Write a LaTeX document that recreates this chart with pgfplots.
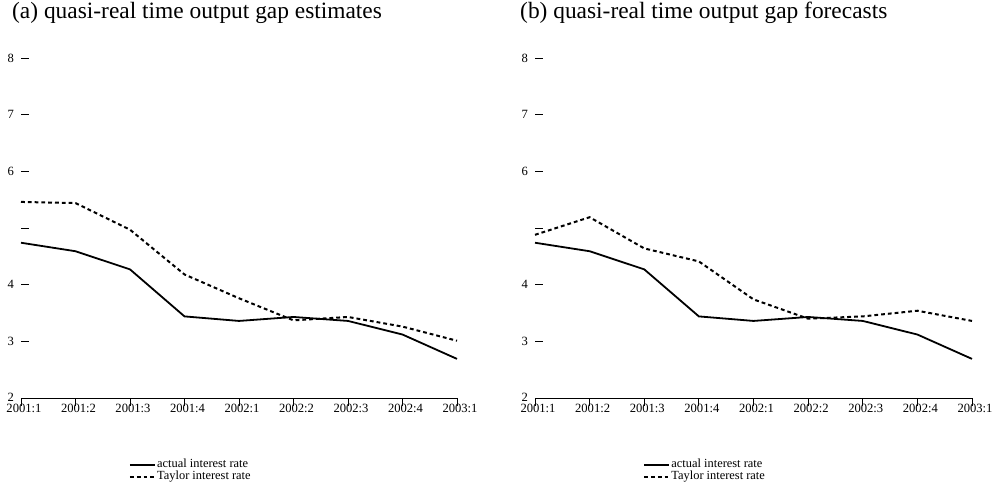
\documentclass[border=0pt]{standalone}
\usepackage{fontspec}
\setmainfont{Liberation Serif}
\usepackage{pgfplots}
\pgfplotsset{compat=1.18}
\pgfplotsset{
  common/.style={
    scale only axis, height=340pt,
    xmin=0, xmax=8, ymin=2, ymax=8,
    major tick length=8pt,
    tick style={line width=0.8pt, black},
    ticklabel style={font=\fontsize{12.6}{15}\selectfont},
    /pgf/number format/assume math mode=true,
    clip=false,
  },
  xaxis/.style={common,
    axis x line=bottom, axis y line=none,
    x axis line style={-, line width=0.8pt},
    tick align=outside,
    xtick={0,...,8},
    xticklabels={2001:1,2001:2,2001:3,2001:4,2002:1,2002:2,2002:3,2002:4,2003:1},
    xticklabel style={anchor=north, inner sep=0pt, xshift=3pt, yshift=2.5pt},
    legend cell align=left,
    legend style={draw=none, fill=none, inner sep=0pt, outer sep=0pt,
      font=\fontsize{12.4}{14}\selectfont,
      nodes={inner sep=1.2pt, text height=7.6pt, text depth=2pt},
      row sep=0pt,
      at={(0.2477,-0.2147)}, anchor=west},
    legend image code/.code={\draw[##1] (0pt,0pt) -- (25pt,0pt);},
  },
  yaxis/.style={common,
    axis x line=none, axis y line=left,
    y axis line style={draw=none},
    tick align=inside,
    ytick={2,...,8},
    yticklabels={\raisebox{2pt}{2},3,4,{},6,7,8},
    yticklabel style={anchor=east, inner sep=0pt, xshift=-7pt},
  },
  actual/.style={black, line width=1.8pt, solid},
  taylor/.style={black, line width=2pt, dash pattern=on 3.8pt off 3pt},
}
\begin{document}
\begin{tikzpicture}[x=1pt,y=1pt]
\useasboundingbox (0,0) rectangle (1003,496);
\node[anchor=base west, inner sep=0pt, font=\fontsize{23.4}{28}\selectfont] at (12,477.5) {(a) quasi-real time output gap estimates};
\node[anchor=base west, inner sep=0pt, font=\fontsize{23.4}{28}\selectfont] at (520,477.5) {(b) quasi-real time output gap forecasts};
\begin{axis}[yaxis, width=436pt, at={(21pt,98pt)}, anchor=south west]
\end{axis}
\begin{axis}[xaxis, width=436pt, at={(21pt,98pt)}, anchor=south west]
\addplot[actual] coordinates {(0,4.74) (1,4.59) (2,4.27) (3,3.44) (4,3.36) (5,3.43) (6,3.36) (7,3.12) (8,2.69)};
\addlegendentry{actual interest rate}
\addplot[taylor] coordinates {(0,5.46) (1,5.44) (2,4.97) (3,4.18) (4,3.76) (5,3.37) (6,3.43) (7,3.26) (8,3.01)};
\addlegendentry{Taylor interest rate}
\end{axis}
\begin{axis}[yaxis, width=437pt, at={(535pt,98pt)}, anchor=south west]
\end{axis}
\begin{axis}[xaxis, width=437pt, at={(535pt,98pt)}, anchor=south west]
\addplot[actual] coordinates {(0,4.74) (1,4.59) (2,4.27) (3,3.44) (4,3.36) (5,3.43) (6,3.36) (7,3.12) (8,2.69)};
\addlegendentry{actual interest rate}
\addplot[taylor] coordinates {(0,4.88) (1,5.19) (2,4.64) (3,4.41) (4,3.74) (5,3.40) (6,3.44) (7,3.54) (8,3.36)};
\addlegendentry{Taylor interest rate}
\end{axis}
\end{tikzpicture}
\end{document}
